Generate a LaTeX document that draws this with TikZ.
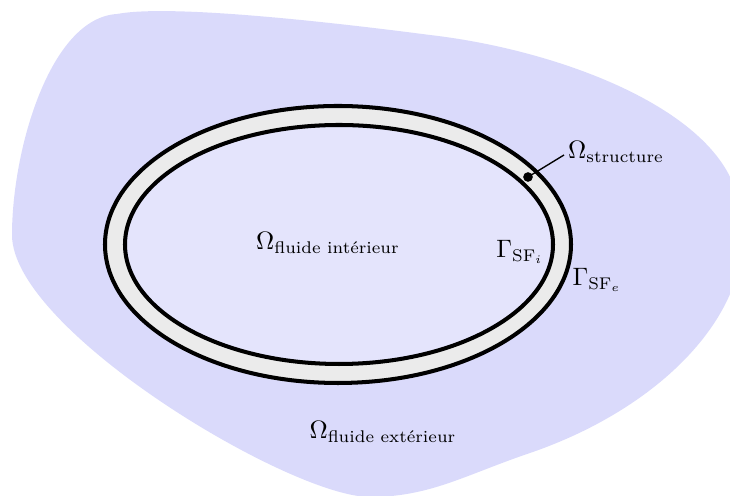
\documentclass[tikz,border=0pt]{standalone}
\usepackage{amsmath}
\usepackage{fontspec}
\definecolor{blobcol}{RGB}{218,218,251}
\definecolor{innercol}{RGB}{228,228,252}
\definecolor{ringcol}{RGB}{235,235,235}
\begin{document}
\begin{tikzpicture}[x=0.4348pt,y=-0.4348pt,
  bound/.style={line width=1.75pt, draw=black},
  lab/.style={inner sep=1pt, font=\fontsize{10.5}{12}\selectfont},
  dotnode/.style={circle, fill=black, inner sep=0pt, minimum size=4.2pt},
  leader/.style={line width=0.6pt}]
\useasboundingbox (0,0) rectangle (730,496);
\clip (0,0) rectangle (730,496);
% exterior fluid domain
\fill[blobcol] (12,235)
  .. controls (12,150) and (50,18) .. (117,14)
  .. controls (170,4) and (330,22) .. (430,35)
  .. controls (560,50) and (720,110) .. (738,200)
  .. controls (766,300) and (670,405) .. (530,453)
  .. controls (465,475) and (430,497) .. (370,497)
  .. controls (290,497) and (12,330) .. (12,235) -- cycle;
% structure ring
\fill[ringcol] (338,244.5) ellipse [x radius=233, y radius=138.5];
\fill[innercol] (339,244.5) ellipse [x radius=214, y radius=119.5];
\draw[bound] (338,244.5) ellipse [x radius=233, y radius=138.5];
\draw[bound] (339,244.5) ellipse [x radius=214, y radius=119.5];
% labels
\node[lab] (oint) at (328,243) {$\Omega_{\text{fluide intérieur}}$};
\node[lab] (oext) at (383,432) {$\Omega_{\text{fluide extérieur}}$};
\node[lab] (gi) at (520,252) {$\Gamma_{\mathrm{SF}_i}$};
\node[lab] (ge) at (597,280) {$\Gamma_{\mathrm{SF}_e}$};
\node[lab] (ostr) at (616,152) {$\Omega_{\text{structure}}$};
\node[dotnode] (pt) at (528,177) {};
\coordinate (lend) at (564,155);
\draw[leader] (pt.center) -- (lend);
\end{tikzpicture}
\end{document}
